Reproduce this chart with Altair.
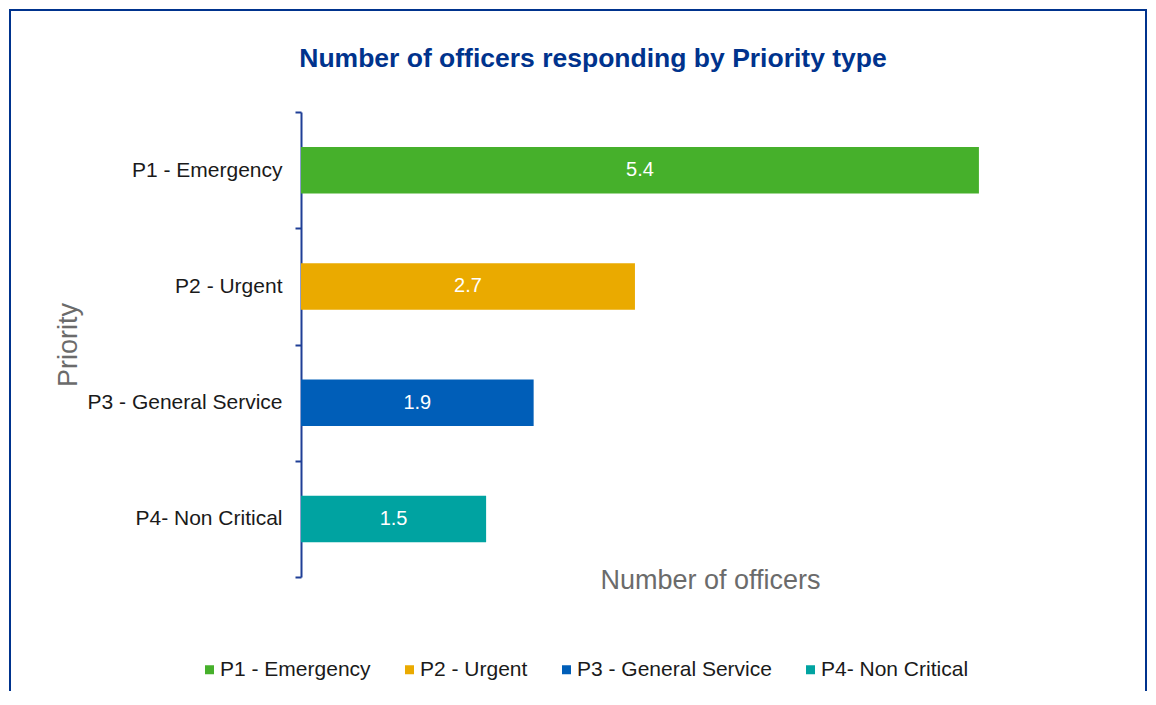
import altair as alt
import pandas as pd

categories = ["P1 - Emergency", "P2 - Urgent", "P3 - General Service", "P4- Non Critical"]
officers = [5.42, 2.67, 1.86, 1.48]
colors = ["#46B02B", "#EAAA00", "#005EB8", "#00A3A1"]

df = pd.DataFrame({"Priority": categories, "Officers": officers})

FONT = "Liberation Sans"
BORDER = "#00338D"
AXIS_BLUE = "#1F3F96"

y_enc = alt.Y(
    "Priority:N",
    sort=categories,
    scale=alt.Scale(paddingInner=0, paddingOuter=0),
    axis=alt.Axis(
        title="Priority",
        titleFont=FONT,
        titleFontSize=27,
        titleFontWeight="normal",
        titleColor="#6B6B6B",
        titleX=-225,
        titleY=232.5,
        titleBaseline="alphabetic",
        labelFont=FONT,
        labelFontSize=21,
        labelColor="#1A1A1A",
        labelPadding=13,
        labelLimit=300,
        tickSize=6,
        tickWidth=2,
        tickColor=AXIS_BLUE,
        tickBand="extent",
        domainColor=AXIS_BLUE,
        domainWidth=2,
        grid=False,
    ),
)

x_enc = alt.X(
    "Officers:Q",
    scale=alt.Scale(domain=[0, 6.5], nice=False),
    axis=alt.Axis(
        title="Number of officers",
        titleFont=FONT,
        titleFontSize=27,
        titleFontWeight="normal",
        titleColor="#6B6B6B",
        titleX=409,
        titleY=11,
        titleBaseline="alphabetic",
        labels=False,
        ticks=False,
        domain=False,
        grid=False,
    ),
)

bars = alt.Chart(df).mark_bar(height=alt.RelativeBandSize(0.4)).encode(
    x=x_enc,
    y=y_enc,
    color=alt.Color(
        "Priority:N",
        sort=categories,
        scale=alt.Scale(domain=categories, range=colors),
        legend=alt.Legend(
            title=None,
            orient="none",
            legendX=-102,
            legendY=547,
            padding=0,
            direction="horizontal",
            columns=4,
            columnPadding=28,
            symbolType="square",
            symbolSize=81,
            symbolStrokeWidth=0,
            labelFont=FONT,
            labelFontSize=21,
            labelColor="#1A1A1A",
            labelOffset=0,
            labelLimit=300,
        ),
    ),
)

labels = alt.Chart(df).transform_calculate(
    mid="datum.Officers / 2",
    lbl="format(datum.Officers, '.1f')",
).mark_text(font=FONT, fontSize=20, color="white", baseline="middle", align="center").encode(
    x=alt.X("mid:Q"),
    y=alt.Y("Priority:N", sort=categories),
    text="lbl:N",
)

one = alt.Data(values=[{"k": 1}])
left_border = alt.Chart(one).mark_rule(color=BORDER, strokeWidth=2).encode(
    x=alt.value(-291), y=alt.value(-103), y2=alt.value(579)
)
right_border = alt.Chart(one).mark_rule(color=BORDER, strokeWidth=2).encode(
    x=alt.value(845), y=alt.value(-103), y2=alt.value(579)
)
top_border = alt.Chart(one).mark_rule(color=BORDER, strokeWidth=2).encode(
    x=alt.value(-292), x2=alt.value(846), y=alt.value(-102)
)

chart = alt.layer(bars, labels, left_border, right_border, top_border).properties(
    width=813,
    height=465,
    padding=0,
    background="white",
    title=alt.TitleParams(
        text="Number of officers responding by Priority type",
        font=FONT,
        fontSize=26.5,
        fontWeight="bold",
        color=BORDER,
        anchor="middle",
        frame="bounds",
        offset=-64,
        dx=15,
    ),
).configure_view(strokeWidth=0, stroke="transparent")

chart.save("out.html", embed_options={"renderer": "svg", "actions": False})
